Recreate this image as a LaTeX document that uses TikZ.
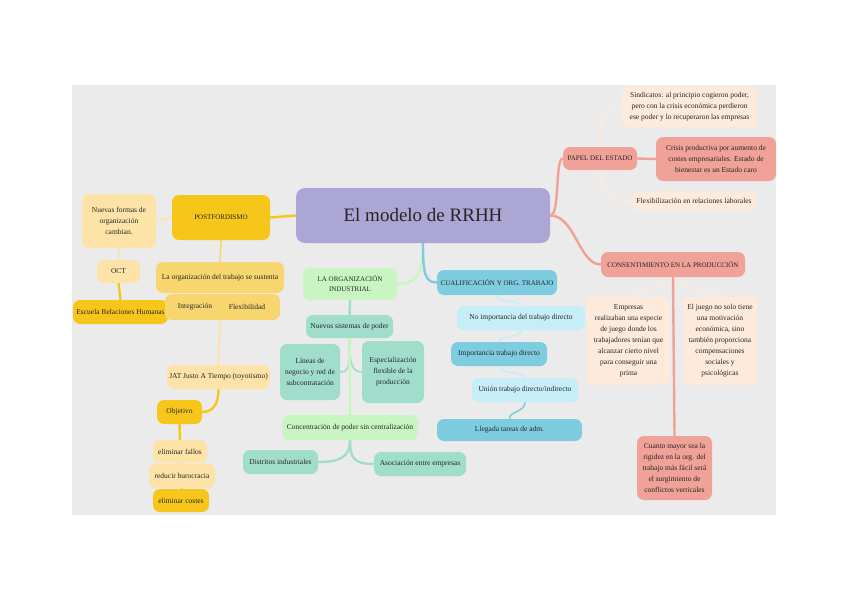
\documentclass[tikz,border=0pt]{standalone}
\usepackage{fontspec}
\setmainfont{Liberation Serif}
\usetikzlibrary{backgrounds}
\definecolor{bgray}{HTML}{EBEBEB}
\definecolor{lav}{HTML}{ABA6D3}
\definecolor{gold}{HTML}{F6C71A}
\definecolor{lyel}{HTML}{FDE3A7}
\definecolor{myel}{HTML}{F7D66F}
\definecolor{salm}{HTML}{F0A198}
\definecolor{peach}{HTML}{FDEADB}
\definecolor{lgreen}{HTML}{C9F5C2}
\definecolor{teal}{HTML}{A0DDCB}
\definecolor{blu}{HTML}{7ECCE0}
\definecolor{lblu}{HTML}{C6EEF8}
\definecolor{txt}{HTML}{262626}
\begin{document}
\begin{tikzpicture}[x=1pt,y=-1pt,
  box/.style={rounded corners=7pt, align=center, inner sep=1pt, text=txt,
    font=\fontsize{7.5}{11}\selectfont},
  caps/.style={font=\fontsize{7}{10}\selectfont},
  conn/.style={line width=1.6pt},
  thick conn/.style={line width=2.4pt}]
\useasboundingbox (0,0) rectangle (848,599);
% main
\node[box, fill=lav, minimum width=254pt, minimum height=55pt, rounded corners=9pt,
  font=\fontsize{19}{23}\selectfont] (main) at (423,215.5) {El modelo de RRHH};
% left yellow branch
\node[box, caps, fill=gold, minimum width=98pt, minimum height=45pt] (post) at (221,217.5) {POSTFORDISMO};
\node[box, fill=lyel, minimum width=74pt, minimum height=54pt] (nuevas) at (119,221) {Nuevas formas de\\ organización\\ cambian.};
\node[box, fill=lyel, minimum width=43pt, minimum height=23pt] (oct) at (118.5,271.5) {OCT};
\node[box, fill=gold, minimum width=95pt, minimum height=24pt] (escuela) at (120.5,312) {Escuela Relaciones Humanas};
\node[box, fill=myel, minimum width=66pt, minimum height=26pt] (flex) at (247,307) {Flexibilidad};
\node[box, fill=myel, minimum width=60pt, minimum height=26pt] (integ) at (195,307) {Integración};
\node[box, fill=myel, minimum width=128pt, minimum height=31pt] (laorg) at (220,277.5) {La organización del trabajo se sustenta};
\node[box, fill=lyel, minimum width=103pt, minimum height=24pt] (jat) at (218.5,377) {JAT Justo A Tiempo (toyotismo)};
\node[box, fill=gold, minimum width=45pt, minimum height=24pt] (obj) at (179.5,412) {Objetivo};
\node[box, fill=lyel, minimum width=54pt, minimum height=23pt] (fallos) at (180,451.5) {eliminar fallos};
\node[box, fill=lyel, minimum width=66pt, minimum height=24pt] (buro) at (182,476) {reducir burocracia};
\node[box, fill=gold, minimum width=56pt, minimum height=23pt] (costes) at (181,500.5) {eliminar costes};
% right salmon branch
\node[box, caps, fill=salm, minimum width=74pt, minimum height=23pt] (papel) at (600,158.5) {PAPEL DEL ESTADO};
\node[box, fill=peach, minimum width=135pt, minimum height=41pt] (sind) at (689.5,106.5) {Sindicatos: al principio cogieron poder,\\ pero con la crisis económica perdieron\\ ese poder y lo recuperaron las empresas};
\node[box, fill=salm, minimum width=120pt, minimum height=44pt] (crisis) at (716,159) {Crisis productiva por aumento de\\ costes empresariales. Estado de\\ bienestar es un Estado caro};
\node[box, fill=peach, minimum width=124pt, minimum height=20pt] (flexi) at (694,201) {Flexibilización en relaciones laborales};
\node[box, caps, fill=salm, minimum width=144pt, minimum height=25pt] (consent) at (673,264.5) {CONSENTIMIENTO EN LA PRODUCCIÓN};
\node[box, fill=peach, minimum width=83pt, minimum height=88pt] (empresas) at (628.5,341) {Empresas\\ realizaban una especie\\ de juego donde los\\ trabajadores tenían que\\ alcanzar cierto nivel\\ para conseguir una\\ prima};
\node[box, fill=peach, minimum width=74pt, minimum height=88pt] (juego) at (720,341) {El juego no solo tiene\\ una motivación\\ económica, sino\\ también proporciona\\ compensaciones\\ sociales y\\ psicológicas};
\node[box, fill=salm, minimum width=75pt, minimum height=64pt] (cuanto) at (674.5,468) {Cuanto mayor sea la\\ rigidez en la org. del\\ trabajo más fácil será\\ el surgimiento de\\ conflictos verticales};
% center green/teal branch
\node[box, caps, fill=lgreen, minimum width=94pt, minimum height=32pt] (laorgind) at (350,284) {LA ORGANIZACIÓN\\ INDUSTRIAL};
\node[box, fill=teal, minimum width=87pt, minimum height=23pt] (nuevos) at (349.5,326.5) {Nuevos sistemas de poder};
\node[box, fill=teal, minimum width=60pt, minimum height=56pt] (lineas) at (310,372) {Líneas de\\ negocio y red de\\ subcontratación};
\node[box, fill=teal, minimum width=62pt, minimum height=62pt] (espec) at (393,372) {Especialización\\ flexible de la\\ producción};
\node[box, fill=lgreen, minimum width=136pt, minimum height=25pt] (concen) at (350,427.5) {Concentración de poder sin centralización};
\node[box, fill=teal, minimum width=75pt, minimum height=24pt] (distritos) at (280.5,462) {Distritos industriales};
\node[box, fill=teal, minimum width=92pt, minimum height=24pt] (asoc) at (420,464) {Asociación entre empresas};
% blue branch
\node[box, caps, fill=blu, minimum width=120pt, minimum height=25pt] (cual) at (497,282.5) {CUALIFICACIÓN Y ORG. TRABAJO};
\node[box, fill=lblu, minimum width=128pt, minimum height=24pt] (noimp) at (521,318) {No importancia del trabajo directo};
\node[box, fill=blu, minimum width=96pt, minimum height=24pt] (imp) at (499,354) {Importancia trabajo directo};
\node[box, fill=lblu, minimum width=106pt, minimum height=24pt] (union) at (525,390) {Unión trabajo directo/indirecto};
\node[box, fill=blu, minimum width=145pt, minimum height=22pt] (llegada) at (509.5,430) {Llegada tareas de adm.};
\begin{pgfonlayer}{background}
\fill[bgray] (72,85) rectangle (776,515);
% yellow connectors
\draw[thick conn, gold] (main.west) -- (post.east);
\draw[conn, lyel] (post.west) .. controls +(-6,0) and +(6,0) .. (nuevas.east);
\draw[conn, lyel] (nuevas.south) -- (oct.north);
\draw[thick conn, gold] (oct.south) -- (escuela.north);
\draw[conn, myel] (post.south) -- (laorg.north);
\draw[conn, lyel] (220,318) -- (jat.north);
\draw[thick conn, gold] (jat.south) .. controls +(0,16) and +(10,0) .. (obj.east);
\draw[thick conn, gold] (obj.south) -- (fallos.north);
\draw[conn, lyel] (fallos.south) -- (buro.north);
\draw[conn, gold] (buro.south) -- (costes.north);
% salmon connectors
\draw[thick conn, salm] (main.east) .. controls +(10,0) and +(-8,0) .. (papel.west);
\draw[thick conn, salm] (main.east) .. controls +(25,0) and +(-22,0) .. (consent.west);
\draw[conn, peach] (papel.north) .. controls +(0,-45) and +(-14,0) .. (sind.west);
\draw[conn, peach] (papel.south) .. controls +(0,30) and +(-14,0) .. (flexi.west);
\draw[thick conn, salm] (papel.east) -- (crisis.west);
\draw[conn, peach] (consent.south) .. controls +(0,12) and +(0,-8) .. (empresas.north);
\draw[conn, peach] (consent.south) .. controls +(0,12) and +(0,-8) .. (juego.north);
\draw[thick conn, salm] (consent.south) -- (cuanto.north);
% green/teal connectors
\draw[thick conn, lgreen] (main.south) .. controls +(0,30) and +(20,0) .. (laorgind.east);
\draw[thick conn, blu] (main.south) .. controls +(0,30) and +(-12,0) .. (cual.west);
\draw[thick conn, teal] (laorgind.south) -- (nuevos.north);
\draw[conn, teal] (nuevos.south) .. controls +(0,25) and +(10,0) .. (lineas.east);
\draw[conn, teal] (nuevos.south) .. controls +(0,25) and +(-10,0) .. (espec.west);
\draw[thick conn, lgreen] (nuevos.south) -- (concen.north);
\draw[thick conn, teal] (concen.south) .. controls +(0,18) and +(20,0) .. (distritos.east);
\draw[thick conn, teal] (concen.south) .. controls +(0,18) and +(-20,0) .. (asoc.west);
% blue chain
\draw[conn, lblu] (cual.south) .. controls +(0,8) and +(0,-6) .. (noimp.north);
\draw[conn, lblu] (noimp.south) .. controls +(0,8) and +(0,-6) .. (imp.north);
\draw[conn, lblu] (imp.south) .. controls +(0,8) and +(0,-6) .. (union.north);
\draw[conn, blu] (union.south) .. controls +(0,10) and +(0,-8) .. (llegada.north);
\end{pgfonlayer}
\end{tikzpicture}
\end{document}
